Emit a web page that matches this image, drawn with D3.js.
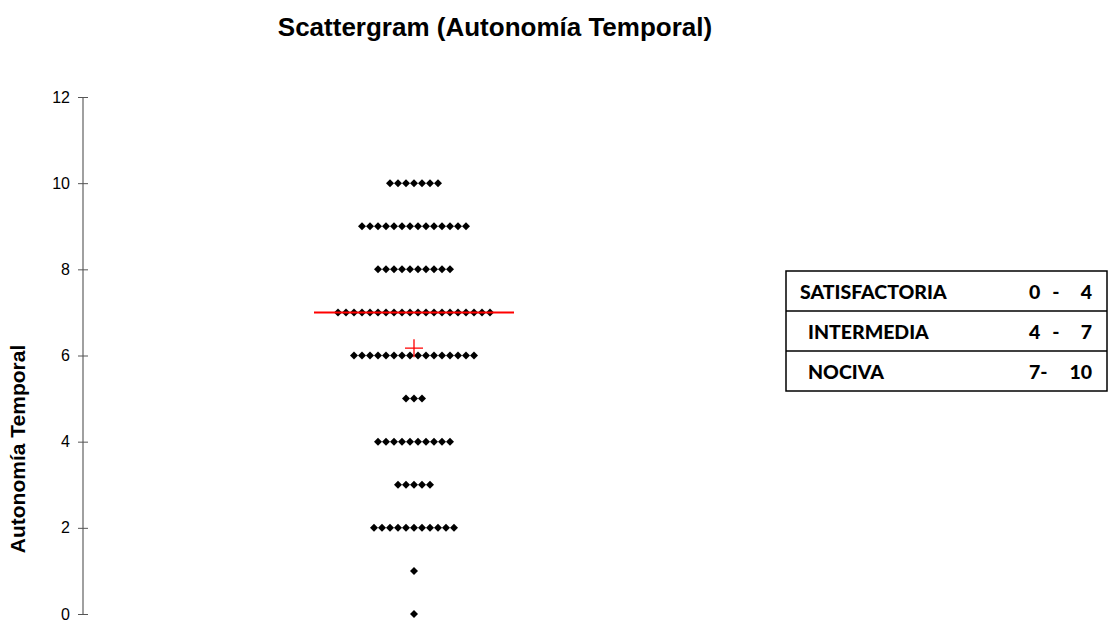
<!DOCTYPE html>
<html><head><meta charset="utf-8">
<script src="https://cdn.jsdelivr.net/npm/d3@7"></script>
<style>body{margin:0;background:#fff}svg{display:block}</style>
</head><body>
<svg id="c" width="1120" height="626"></svg>
<script>
// Data
const values = [0, 1, 2, 3, 4, 5, 6, 7, 8, 9, 10];
const counts = [1, 1, 11, 5, 10, 3, 16, 20, 10, 14, 7];
const yTicks = [0, 2, 4, 6, 8, 10, 12];
const medianValue = 7;
const meanValue = 6.17;
const tableLabels = ["SATISFACTORIA", "INTERMEDIA", "NOCIVA"];
const tableRanges = ["0 - 4", "4 - 7", "7- 10"];

const svg = d3.select("#c");
const y = d3.scaleLinear().domain([0, 12]).range([614, 97]);
const x = d3.scaleLinear().domain([0, 2]).range([83, 745]);
const dotStep = 8;
const FONT = "Liberation Sans, Arial, sans-serif";

// Title
svg.append("text").attr("x", 495).attr("y", 36).attr("text-anchor", "middle")
  .attr("font-family", FONT).attr("font-weight", "bold")
  .attr("font-size", 26).text("Scattergram (Autonomía Temporal)");

// Y axis
const axis = d3.axisLeft(y).tickValues(yTicks).tickSize(5).tickPadding(8);
const gA = svg.append("g").attr("transform", "translate(83,0)").call(axis);
gA.select(".domain").attr("stroke", "#808080").attr("stroke-width", 1.5).attr("d", `M0,${y(12)}V${y(0)}`);
gA.selectAll(".tick line").attr("stroke", "#555").attr("x1", -5).attr("x2", 5);
gA.selectAll(".tick text").attr("font-family", FONT)
  .attr("font-size", 16).attr("fill", "#000");

svg.append("text").attr("transform", `translate(25,449) rotate(-90)`).attr("text-anchor", "middle")
  .attr("font-family", FONT).attr("font-weight", "bold")
  .attr("font-size", 21).text("Autonomía Temporal");

// Dots
const pts = [];
values.forEach((v, k) => {
  const n = counts[k];
  for (let i = 0; i < n; i++) pts.push({v, off: (i - (n - 1) / 2) * dotStep});
});
const sym = d3.symbol().type(d3.symbolSquare).size(32);
svg.append("g").selectAll("path").data(pts).join("path")
  .attr("d", sym)
  .attr("transform", d => `translate(${x(1) + d.off},${y(d.v)}) rotate(45)`)
  .attr("fill", "#000");

// Median line
svg.append("line").attr("x1", x(1) - 100).attr("x2", x(1) + 100)
  .attr("y1", y(medianValue)).attr("y2", y(medianValue))
  .attr("stroke", "#ff0000").attr("stroke-width", 2);
// Mean cross
const cx = x(1), cy = y(meanValue);
svg.append("path").attr("d", `M${cx - 9},${cy}H${cx + 9}M${cx},${cy - 9}V${cy + 9}`)
  .attr("stroke", "#ff0000").attr("stroke-width", 1.3).attr("fill", "none");

// Table
const tx0 = 786, tx1 = 1107, ty0 = 271, rh = 40;
const tg = svg.append("g");
tg.append("rect").attr("x", tx0).attr("y", ty0).attr("width", tx1 - tx0).attr("height", rh * 3)
  .attr("fill", "none").attr("stroke", "#000").attr("stroke-width", 1.5);
[1, 2].forEach(i => tg.append("line").attr("x1", tx0).attr("x2", tx1)
  .attr("y1", ty0 + rh * i).attr("y2", ty0 + rh * i).attr("stroke", "#000").attr("stroke-width", 1.5));
const tFont = t => t.attr("font-family", "Lato, sans-serif").attr("font-weight", "900").attr("font-size", 19.5);
tableLabels.forEach((t, i) => {
  const by = ty0 + rh * i + 28;
  tFont(tg.append("text").attr("x", i === 0 ? 800 : 808).attr("y", by)).text(t);
  const parts = tableRanges[i].split(" ");
  parts.forEach((p, j) => {
    let xp, anchor;
    if (j === 0) { xp = 1029; anchor = "start"; }
    else if (j === parts.length - 1) { xp = 1092; anchor = "end"; }
    else { xp = 1056; anchor = "middle"; }
    tFont(tg.append("text").attr("x", xp).attr("y", by).attr("text-anchor", anchor)).text(p);
  });
});
</script>
</body></html>
